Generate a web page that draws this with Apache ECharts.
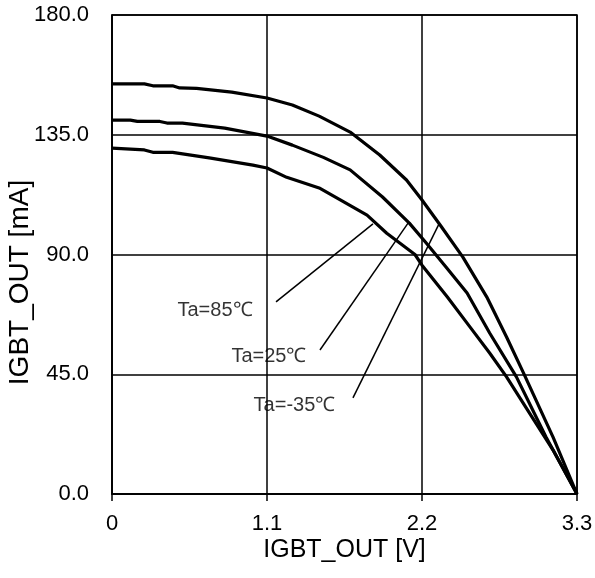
<!DOCTYPE html>
<html>
<head>
<meta charset="utf-8">
<script src="https://cdn.jsdelivr.net/npm/echarts@6/dist/echarts.min.js"></script>
<style>html,body{margin:0;padding:0;background:#fff;}#c{width:595px;height:578px;}</style>
</head>
<body>
<div id="c"></div>
<script>
// Ta=-35℃ (top curve)
var vM35 = [0, 0.23, 0.29, 0.43, 0.48, 0.6, 0.85, 1.1, 1.28, 1.47, 1.69, 1.9, 2.09, 2.2, 2.33, 2.49, 2.66, 2.8, 2.92, 3.13, 3.3];
var iM35 = [154.1, 154.1, 153.4, 153.4, 152.6, 152.4, 151, 148.8, 146.2, 142, 136, 127.4, 118, 110.5, 101, 89, 74, 59, 45.5, 21.4, 0];
// Ta=25℃ (middle curve)
var v25 = [0, 0.13, 0.18, 0.34, 0.39, 0.5, 0.8, 1.1, 1.28, 1.5, 1.69, 1.92, 2.11, 2.23, 2.37, 2.52, 2.68, 2.87, 3.08, 3.3];
var i25 = [140.5, 140.5, 140, 140, 139.4, 139.4, 137.5, 134.5, 131.1, 126.5, 121.8, 111.6, 101.8, 94.3, 85.3, 75.5, 60.5, 44, 21.4, 0];
// Ta=85℃ (bottom curve)
var v85 = [0, 0.01, 0.23, 0.29, 0.43, 0.69, 1.0, 1.1, 1.24, 1.47, 1.62, 1.81, 1.95, 2.15, 2.2, 2.38, 2.54, 2.68, 2.8, 2.98, 3.13, 3.3];
var i85 = [130, 130, 129.3, 128.4, 128.4, 126.3, 123.6, 122.5, 119, 115, 110.5, 104.8, 98, 90, 86, 74, 62.8, 53, 44, 29, 16.5, 0];

// annotations
var labelTexts = ['Ta=85℃', 'Ta=25℃', 'Ta=-35℃'];
var labelV = [0.731, 1.114, 1.295];
var labelI = [69.1, 51.5, 33.4];
var leaderV0 = [1.164, 1.476, 1.710];
var leaderI0 = [72.2, 54.1, 36.1];
var leaderV1 = [1.852, 2.101, 2.321];
var leaderI1 = [101.5, 101.8, 101.5];

var xTicks = [0, 1.1, 2.2, 3.3];
var yTicks = [0, 45, 90, 135, 180];

function pairs(xs, ys) { return xs.map(function (x, k) { return [x, ys[k]]; }); }

var FONT = '"Liberation Sans", Arial, sans-serif';
var series = [];
[[vM35, iM35, 'Ta=-35℃'], [v25, i25, 'Ta=25℃'], [v85, i85, 'Ta=85℃']].forEach(function (s) {
  series.push({
    type: 'line', name: s[2], data: pairs(s[0], s[1]), showSymbol: false, symbol: 'none',
    lineStyle: { color: '#000', width: 3.2 }, z: 5, silent: true
  });
});
for (var k = 0; k < 3; k++) {
  series.push({
    type: 'line', data: [[leaderV0[k], leaderI0[k]], [leaderV1[k], leaderI1[k]]],
    symbol: 'none', lineStyle: { color: '#000', width: 1.5 }, z: 4, silent: true
  });
}
series.push({
  type: 'scatter', symbolSize: 1, itemStyle: { color: 'rgba(0,0,0,0)' },
  data: labelV.map(function (v, k) { return { value: [v, labelI[k]], name: labelTexts[k] }; }),
  label: { show: true, position: 'inside', formatter: '{b}', color: '#000', fontSize: 20, fontFamily: FONT },
  z: 6, silent: true
});

var chart = echarts.init(document.getElementById('c'), null, { renderer: 'canvas' });
chart.setOption({
  animation: false,
  backgroundColor: '#fff',
  grid: { left: 112, right: 18, top: 15, bottom: 84, show: true, borderColor: '#000', borderWidth: 1.5,
    backgroundColor: 'transparent', containLabel: false, outerBoundsMode: 'none' },
  xAxis: {
    type: 'value', min: xTicks[0], max: xTicks[xTicks.length - 1], interval: 1.1,
    name: 'IGBT_OUT [V]', nameLocation: 'middle', nameGap: 44, nameMoveOverlap: false,
    nameTextStyle: { color: '#000', fontSize: 25, fontFamily: FONT },
    axisLine: { lineStyle: { color: '#000', width: 1.5 } },
    axisTick: { show: true, length: 7, lineStyle: { color: '#000', width: 1.5 } },
    axisLabel: { color: '#000', fontSize: 22, fontFamily: FONT, margin: 19,
      formatter: function (v) { return v === 0 ? '0' : v.toFixed(1); } },
    splitLine: { show: true, lineStyle: { color: '#000', width: 1.5 } }
  },
  yAxis: {
    type: 'value', min: yTicks[0], max: yTicks[yTicks.length - 1], interval: 45,
    name: 'IGBT_OUT [mA]', nameLocation: 'middle', nameGap: 78, nameRotate: 90, nameMoveOverlap: false,
    nameTextStyle: { color: '#000', fontSize: 28, fontFamily: FONT, padding: [0, 56, 0, 0] },
    axisLine: { lineStyle: { color: '#000', width: 1.5 } },
    axisTick: { show: false },
    axisLabel: { color: '#000', fontSize: 22, fontFamily: FONT, margin: 23,
      formatter: function (v) { return v.toFixed(1); } },
    splitLine: { show: true, lineStyle: { color: '#000', width: 1.5 } }
  },
  series: series
});
</script>
</body>
</html>
